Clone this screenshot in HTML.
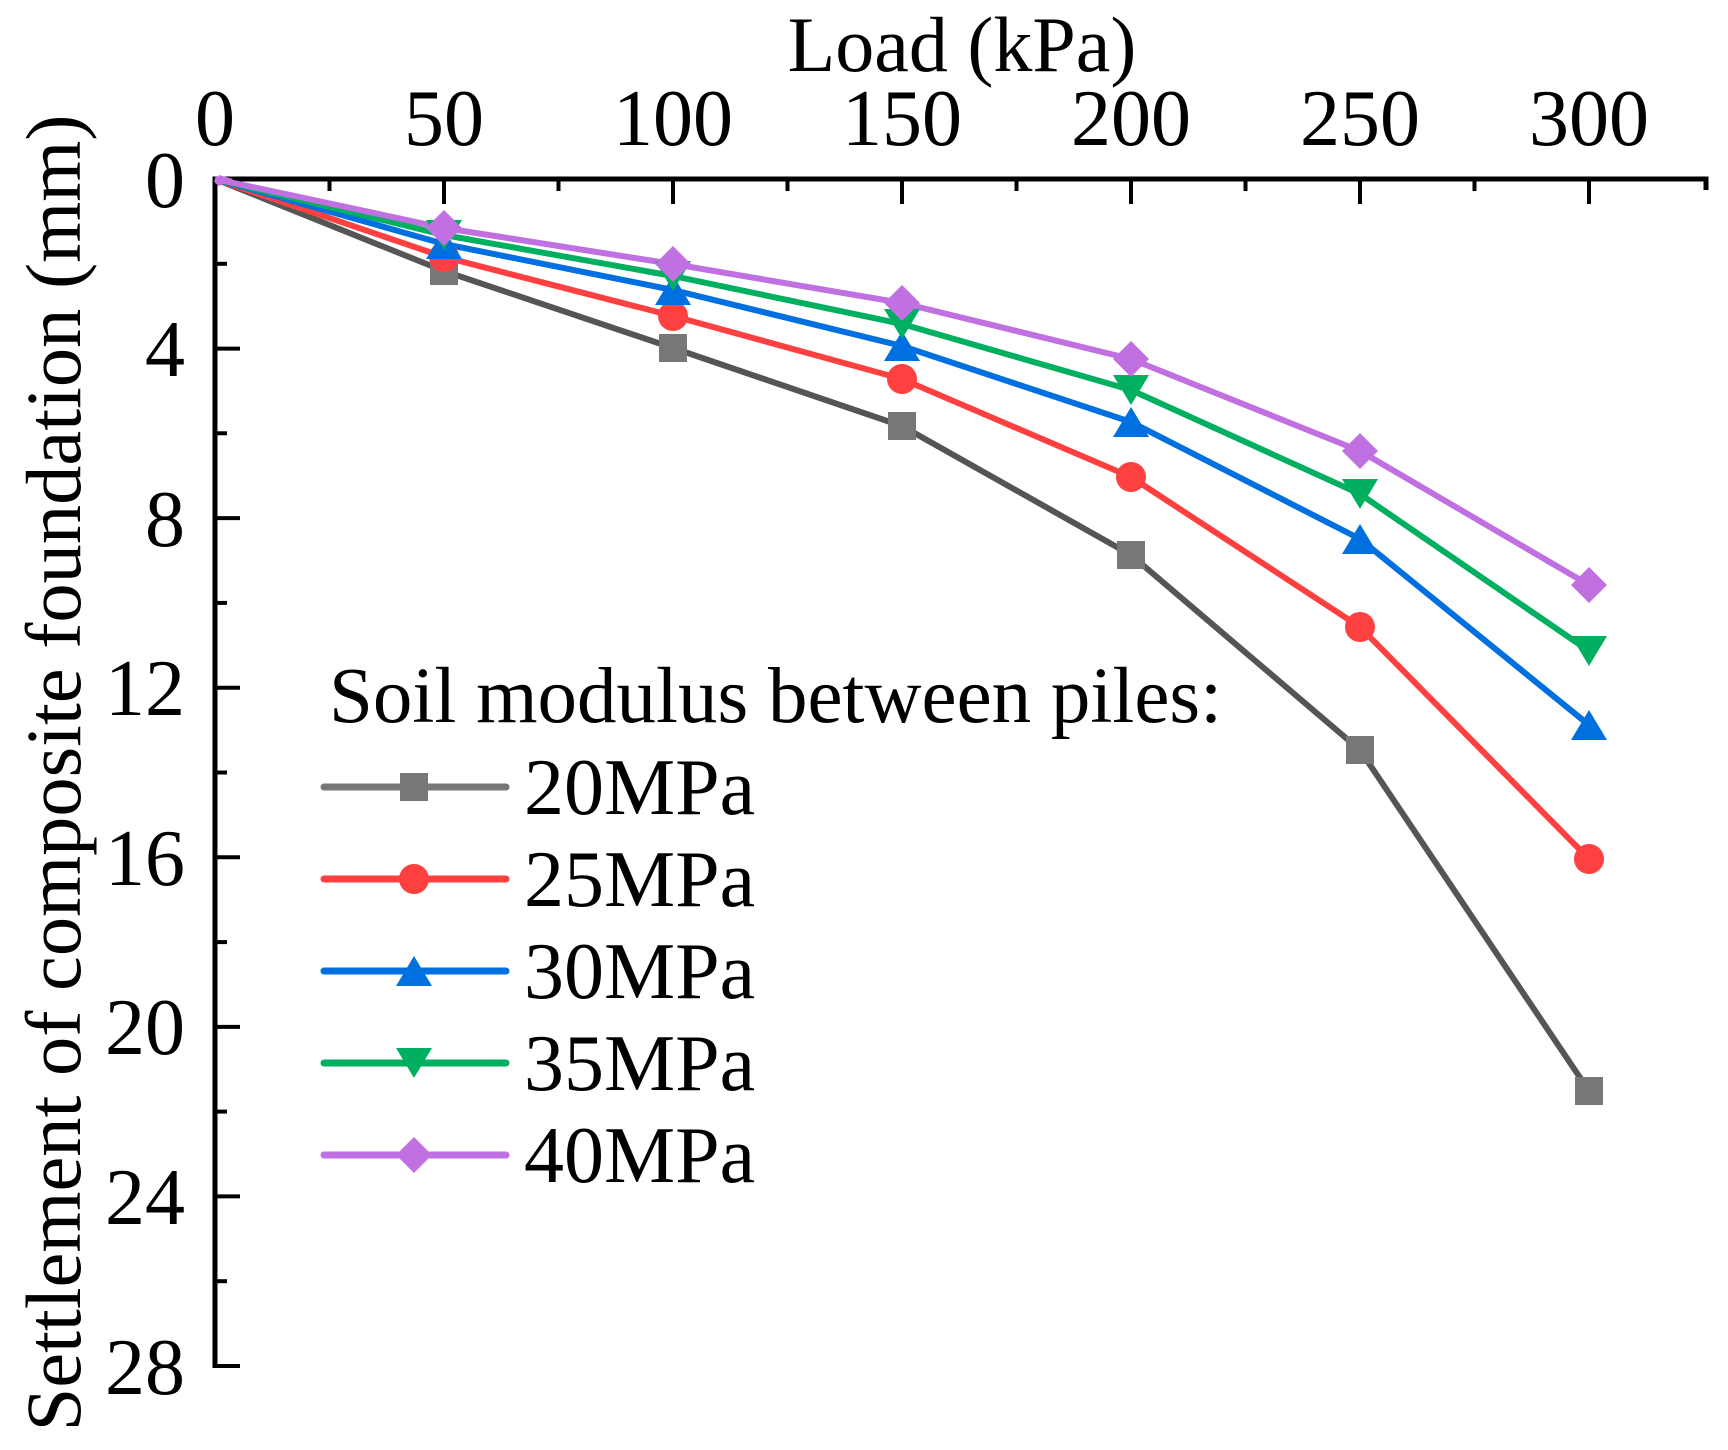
<!DOCTYPE html>
<html><head><meta charset="utf-8"><style>
html,body{margin:0;padding:0;background:#fff;}
svg text{font-family:"Liberation Serif",serif;fill:#000;}
</style></head><body>
<svg width="1728" height="1445" viewBox="0 0 1728 1445" xmlns="http://www.w3.org/2000/svg">
<g stroke="#000" stroke-width="5" fill="none">
<line x1="215" y1="179" x2="1708" y2="179"/>
<line x1="215" y1="176.5" x2="215" y2="1368"/>
<line x1="1706" y1="176.5" x2="1706" y2="190"/>
</g>
<g stroke="#000" stroke-width="4">
<line x1="444" y1="179" x2="444" y2="204"/><line x1="673" y1="179" x2="673" y2="204"/><line x1="902" y1="179" x2="902" y2="204"/><line x1="1131" y1="179" x2="1131" y2="204"/><line x1="1360" y1="179" x2="1360" y2="204"/><line x1="1589" y1="179" x2="1589" y2="204"/>
<line x1="329.5" y1="179" x2="329.5" y2="191"/><line x1="558.5" y1="179" x2="558.5" y2="191"/><line x1="787.5" y1="179" x2="787.5" y2="191"/><line x1="1016.5" y1="179" x2="1016.5" y2="191"/><line x1="1245.5" y1="179" x2="1245.5" y2="191"/><line x1="1474.5" y1="179" x2="1474.5" y2="191"/>
<line x1="215" y1="348.6" x2="240" y2="348.6"/><line x1="215" y1="518.1" x2="240" y2="518.1"/><line x1="215" y1="687.7" x2="240" y2="687.7"/><line x1="215" y1="857.3" x2="240" y2="857.3"/><line x1="215" y1="1026.9" x2="240" y2="1026.9"/><line x1="215" y1="1196.4" x2="240" y2="1196.4"/><line x1="213" y1="1366" x2="240" y2="1366"/>
<line x1="215" y1="263.8" x2="227" y2="263.8"/><line x1="215" y1="433.3" x2="227" y2="433.3"/><line x1="215" y1="602.9" x2="227" y2="602.9"/><line x1="215" y1="772.5" x2="227" y2="772.5"/><line x1="215" y1="942.1" x2="227" y2="942.1"/><line x1="215" y1="1111.6" x2="227" y2="1111.6"/><line x1="215" y1="1281.2" x2="227" y2="1281.2"/>
</g>
<g font-size="80" text-anchor="middle">
<text x="215" y="145">0</text><text x="444" y="145">50</text><text x="673" y="145">100</text><text x="902" y="145">150</text><text x="1131" y="145">200</text><text x="1360" y="145">250</text><text x="1589" y="145">300</text>
</g>
<g font-size="80" text-anchor="end">
<text x="185" y="207">0</text><text x="185" y="376">4</text><text x="185" y="546">8</text><text x="185" y="715">12</text><text x="185" y="885">16</text><text x="185" y="1054">20</text><text x="185" y="1224">24</text><text x="185" y="1394">28</text>
</g>
<text x="962" y="71" font-size="78" text-anchor="middle">Load (kPa)</text>
<text transform="translate(80,773) rotate(-90)" font-size="78.5" text-anchor="middle">Settlement of composite foundation (mm)</text>
<g fill="none" stroke-width="6" stroke-linejoin="round">
<polyline stroke="#555" points="215,179 444,271 673,348 902,426 1131,555 1360,750 1589,1091"/>
<polyline stroke="#ff4040" points="215,179 444,257 673,316 902,379 1131,477 1360,627 1589,859"/>
<polyline stroke="#0070e0" points="215,179 444,244 673,290 902,346 1131,422 1360,539 1589,725"/>
<polyline stroke="#00b060" points="215,179 444,235 673,276 902,324 1131,390 1360,494 1589,651"/>
<polyline stroke="#c070e0" points="215,179 444,228 673,264 902,303 1131,359 1360,451 1589,585"/>
</g>
<g fill="#777"><rect x="430" y="257" width="28" height="28"/><rect x="659" y="334" width="28" height="28"/><rect x="888" y="412" width="28" height="28"/><rect x="1117" y="541" width="28" height="28"/><rect x="1346" y="736" width="28" height="28"/><rect x="1575" y="1077" width="28" height="28"/></g>
<g fill="#ff4040"><circle cx="444" cy="257" r="15"/><circle cx="673" cy="316" r="15"/><circle cx="902" cy="379" r="15"/><circle cx="1131" cy="477" r="15"/><circle cx="1360" cy="627" r="15"/><circle cx="1589" cy="859" r="15"/></g>
<g fill="#0070e0"><polygon points="444,229 462,259 426,259"/><polygon points="673,275 691,305 655,305"/><polygon points="902,331 920,361 884,361"/><polygon points="1131,407 1149,437 1113,437"/><polygon points="1360,524 1378,554 1342,554"/><polygon points="1589,710 1607,740 1571,740"/></g>
<g fill="#00b060"><polygon points="444,250 462,220 426,220"/><polygon points="673,291 691,261 655,261"/><polygon points="902,339 920,309 884,309"/><polygon points="1131,405 1149,375 1113,375"/><polygon points="1360,509 1378,479 1342,479"/><polygon points="1589,666 1607,636 1571,636"/></g>
<g fill="#c070e0"><polygon points="219,175 233,179 219,186 215,183"/><polygon points="444,210 462,228 444,246 426,228"/><polygon points="673,246 691,264 673,282 655,264"/><polygon points="902,285 920,303 902,321 884,303"/><polygon points="1131,341 1149,359 1131,377 1113,359"/><polygon points="1360,433 1378,451 1360,469 1342,451"/><polygon points="1589,567 1607,585 1589,603 1571,585"/></g>
<text x="329" y="722" font-size="79">Soil modulus between piles:</text>
<g stroke-width="7" stroke-linecap="round">
<line x1="324" y1="787" x2="506" y2="787" stroke="#777"/>
<line x1="324" y1="879" x2="506" y2="879" stroke="#ff4040"/>
<line x1="324" y1="971" x2="506" y2="971" stroke="#0070e0"/>
<line x1="324" y1="1063" x2="506" y2="1063" stroke="#00b060"/>
<line x1="324" y1="1155" x2="506" y2="1155" stroke="#c070e0"/>
</g>
<rect x="400" y="773" width="28" height="28" fill="#777"/>
<circle cx="414" cy="879" r="15" fill="#ff4040"/>
<polygon points="414,956 432,986 396,986" fill="#0070e0"/>
<polygon points="414,1078 432,1048 396,1048" fill="#00b060"/>
<polygon points="414,1137 432,1155 414,1173 396,1155" fill="#c070e0"/>
<g font-size="80">
<text x="524" y="814">20MPa</text><text x="524" y="906">25MPa</text><text x="524" y="998">30MPa</text><text x="524" y="1090">35MPa</text><text x="524" y="1182">40MPa</text>
</g>
</svg>
</body></html>
